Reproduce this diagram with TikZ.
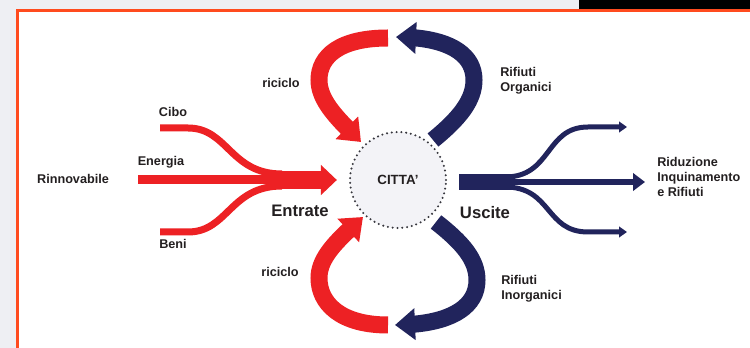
\documentclass[tikz,border=0pt]{standalone}
\usepackage{fontspec}
\setmainfont{Liberation Sans}
\usetikzlibrary{arrows.meta,bending}

\begin{document}
\begin{tikzpicture}[x=0.75pt,y=0.75pt,yscale=-1,xscale=1,
  redflow/.style={draw={rgb, 255:red, 237; green, 33; blue, 36 }},
  blueflow/.style={draw={rgb, 255:red, 33; green, 36; blue, 92 }},
  loopflow/.style={line width=12.75pt, -{Triangle[width=23pt,length=15pt]}},
  lbl/.style={font=\bfseries\fontsize{9.5}{11.5}\selectfont, text={rgb, 255:red, 35; green, 31; blue, 32 }, inner sep=0pt},
  biglbl/.style={lbl, font=\bfseries\fontsize{12.5}{14}\selectfont}]
\useasboundingbox (0,0) rectangle (750,348);

%Background and frame
\fill [color={rgb, 255:red, 238; green, 239; blue, 243 }] (0,0) rectangle (750,348);
\fill [white] (18,10) rectangle (750,348);
\fill [black] (579,0) rectangle (750,9);
\draw [color={rgb, 255:red, 255; green, 75; blue, 30 }, line width=2pt] (17.5,348) -- (17.5,10.3) -- (750,10.3);

%Shape: Circle
\node [circle, minimum size=72pt, fill={rgb, 255:red, 243; green, 243; blue, 247 }, draw={rgb, 255:red, 55; green, 55; blue, 62 }, line width=1.7pt, line cap=round, dash pattern=on 0pt off 3.6pt, lbl, font=\bfseries\fontsize{10}{12}\selectfont] (citta) at (398,180) {CITTA'};

%Entrate
\coordinate (rin) at (138,180);
\coordinate (cibo0) at (160,128);
\coordinate (beni0) at (160,232);
\coordinate (entra) at ([xshift=-9pt]citta.west);
\draw [redflow, line width=6.75pt] (rin) -- (275,180);
\draw [redflow, line width=5.25pt] (cibo0) -- (188,128) .. controls (228,128) and (230,174) .. (282,174);
\draw [redflow, line width=5.25pt] (beni0) -- (188,232) .. controls (228,232) and (230,186) .. (282,186);
\draw [redflow, line width=13.5pt, -{Triangle[width=22pt,length=12pt]}] (268,180) -- (entra);

%Uscite
\coordinate (esce) at (459,182);
\coordinate (rid) at (645,182);
\coordinate (ridsu) at (627,127);
\coordinate (ridgiu) at (627,232);
\draw [blueflow, line width=12pt] (esce) -- (515,182);
\draw [blueflow, line width=4.5pt, -{Triangle[width=13pt,length=9pt]}] (508,182) -- (rid);
\draw [blueflow, line width=3.75pt, -{Triangle[width=8pt,length=6pt]}] (505,177) .. controls (552,177) and (545,127) .. (588,127) -- (ridsu);
\draw [blueflow, line width=3.75pt, -{Triangle[width=8pt,length=6pt]}] (505,187) .. controls (552,187) and (545,232) .. (588,232) -- (ridgiu);

%Loops
\coordinate (ricA) at (388,38);
\coordinate (ricB) at (388,325);
\coordinate (orgA) at (433,140);
\coordinate (orgB) at (396,37);
\coordinate (inoA) at (436,222);
\coordinate (inoB) at (395,325);
\draw [redflow, loopflow] (ricA) .. controls (340,38) and (319,56) .. (319,80) .. controls (319,102) and (340,121) .. (361,142);
\draw [blueflow, loopflow] (orgA) .. controls (460,118) and (474,100) .. (474,80) .. controls (474,52) and (445,37) .. (orgB);
\draw [redflow, loopflow] (ricB) .. controls (340,325) and (319,303) .. (319,278) .. controls (319,256) and (340,238) .. (363,217);
\draw [blueflow, loopflow] (inoA) .. controls (463,243) and (477,260) .. (477,280) .. controls (477,310) and (445,325) .. (inoB);

%Labels
\node [lbl] (cibo) at (173,112) {Cibo};
\node [lbl] (energia) at (161,162) {Energia};
\node [lbl] (rinnov) at (73,179) {Rinnovabile};
\node [lbl] (beni) at (173,244) {Beni};
\node [biglbl] (entrate) at (300,211) {Entrate};
\node [biglbl] (uscite) at (485,213) {Uscite};
\node [lbl, anchor=west, align=left] (riduz) at (657,177) {Riduzione\\Inquinamento\\e Rifiuti};
\node [lbl] (ricsu) at (281,83) {riciclo};
\node [lbl] (ricgiu) at (280,272) {riciclo};
\node [lbl, anchor=west, align=left] (organ) at (500,81) {Rifiuti\\Organici};
\node [lbl, anchor=west, align=left] (inorg) at (501,289) {Rifiuti\\Inorganici};

\end{tikzpicture}
\end{document}
